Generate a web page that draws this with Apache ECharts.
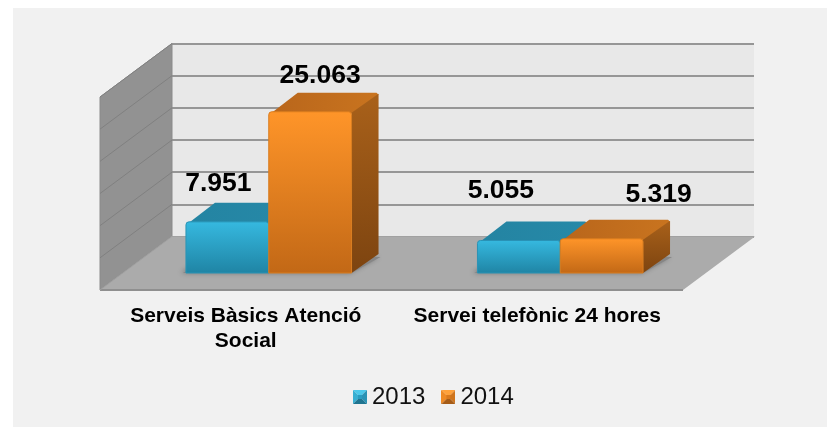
<!DOCTYPE html>
<html>
<head>
<meta charset="utf-8">
<style>
    html, body { margin: 0; padding: 0; background: #fff; }
    #panel { position: absolute; left: 13px; top: 8px; width: 814px; height: 419px; background: #f1f1f1; }
    #chart { position: absolute; left: 0; top: 0; width: 827px; height: 427px; }
</style>
<script src="https://cdn.jsdelivr.net/npm/echarts@6/dist/echarts.min.js"></script>
</head>
<body>
<div id="panel"></div>
<div id="chart"></div>
<script>
    const categories = ['Serveis Bàsics Atenció\nSocial', 'Servei telefònic 24 hores'];
    const values2013 = [7951, 5055];
    const values2014 = [25063, 5319];
    const axisTicks = [0, 5000, 10000, 15000, 20000, 25000, 30000];

    // label nudges, the source chart has them placed by hand
    const labelNudge2013 = [[-9, -38], [-18, -50]];
    const labelNudge2014 = [[10, -36], [57, -44]];

    const FONT = '"Liberation Sans", Arial, sans-serif';
    const DEPTH_X = 72, DEPTH_Y = 53.5;     // wall to front of floor
    const BAR_DX = 23, BAR_DY = 17;         // bars stand a bit inside the floor
    const TOP_DX = 27, TOP_DY = 19;         // depth of one bar

    function vgrad(a, b) {
        return new echarts.graphic.LinearGradient(0, 0, 0, 1, [{offset: 0, color: a}, {offset: 1, color: b}]);
    }

    function fmt(v) {
        return String(v).replace(/\B(?=(\d{3})+$)/g, '.');
    }

    function poly(points, fill, extra) {
        return {type: 'polygon', shape: {points}, style: Object.assign({fill}, extra || {})};
    }

    // small bevelled square for the legend
    function bevelIcon(top, left, right, bottom, mid) {
        const c = document.createElement('canvas');
        c.width = c.height = 14;
        const g = c.getContext('2d');
        const tri = (pts, col) => {
            g.fillStyle = col;
            g.beginPath();
            g.moveTo(pts[0], pts[1]);
            g.lineTo(pts[2], pts[3]);
            g.lineTo(7, 7);
            g.closePath();
            g.fill();
        };
        tri([0, 0, 14, 0], top);
        tri([0, 0, 0, 14], left);
        tri([14, 0, 14, 14], right);
        tri([0, 14, 14, 14], bottom);
        g.fillStyle = mid;
        g.fillRect(5, 5, 4, 4);
        return 'image://' + c.toDataURL();
    }

    // left wall and floor, with the wall lines from the same ticks as the back wall
    function renderRoom(params, api) {
        const cs = params.coordSys;
        const x0 = cs.x, x1 = cs.x + cs.width, yb = cs.y + cs.height;
        const children = [];
        if (params.dataIndex === 0) {
            const yt = api.coord([0, axisTicks[axisTicks.length - 1]])[1];
            children.push(poly([[x0, yt], [x0 + DEPTH_X, yt - DEPTH_Y], [x0 + DEPTH_X, yb - DEPTH_Y], [x0, yb]],
                '#929292', {stroke: '#8a8a8a', lineWidth: 1}));
            children.push(poly([[x0, yb], [x1, yb], [x1 + DEPTH_X, yb - DEPTH_Y], [x0 + DEPTH_X, yb - DEPTH_Y]],
                '#ababab'));
            children.push({type: 'line', shape: {x1: x0, y1: yb, x2: x1, y2: yb}, style: {stroke: '#8f8f8f', lineWidth: 2}});
            children.push({type: 'line', shape: {x1: x0, y1: yb, x2: x0 + DEPTH_X, y2: yb - DEPTH_Y}, style: {stroke: '#a0a0a0', lineWidth: 1}});
        }
        const y = api.coord([0, api.value(1)])[1];
        if (params.dataIndex > 0) {
            children.push({type: 'line', shape: {x1: x0, y1: y, x2: x0 + DEPTH_X, y2: y - DEPTH_Y},
                style: {stroke: '#808080', lineWidth: 1}});
        }
        return {type: 'group', children};
    }

    // soft shadow under each pair of bars
    function renderShadow(params, api) {
        const c = api.coord([api.value(0), 0]);
        const w = api.size([1, 0])[0] * 0.284;
        const xl = c[0] + BAR_DX - w, xr = c[0] + BAR_DX + w, yb = c[1] - BAR_DY;
        return {
            type: 'polygon',
            shape: {points: [[xl - 3, yb], [xr, yb], [xr + TOP_DX + 2, yb - TOP_DY + 3], [xl + TOP_DX, yb - TOP_DY]]},
            style: {fill: '#868686', shadowBlur: 5, shadowColor: 'rgba(0,0,0,0.35)', shadowOffsetX: -2, shadowOffsetY: 0}
        };
    }

    function barRenderer(side, colors, nudges) {
        return function (params, api) {
            const i = api.value(0);
            const top = api.coord([i, api.value(1)]);
            const base = api.coord([i, 0]);
            const w = api.size([1, 0])[0] * 0.284;
            const x = top[0] + BAR_DX + (side < 0 ? -w : 0);
            const yt = top[1] - BAR_DY, yb = base[1] - BAR_DY;
            const nudge = nudges[i];
            return {
                type: 'group',
                children: [
                    poly([[x + 3, yt + 1], [x + TOP_DX + 2, yt - TOP_DY], [x + w + TOP_DX - 2, yt - TOP_DY], [x + w + TOP_DX, yt - TOP_DY + 2], [x + w, yt + 2]],
                        new echarts.graphic.LinearGradient(0, 0, 1, 0, [{offset: 0, color: colors.top[0]}, {offset: 1, color: colors.top[1]}])),
                    poly([[x + w, yt + 1], [x + w + TOP_DX, yt - TOP_DY + 1], [x + w + TOP_DX, yb - TOP_DY], [x + w, yb]],
                        vgrad(colors.side[0], colors.side[1])),
                    {
                        type: 'rect',
                        shape: {x, y: yt, width: w, height: yb - yt, r: [3, 3, 0, 0]},
                        style: {fill: vgrad(colors.front[0], colors.front[1]), stroke: colors.edge, lineWidth: 1}
                    },
                    {
                        type: 'text',
                        style: {
                            text: fmt(api.value(1)),
                            x: x + w / 2 + nudge[0],
                            y: yt + nudge[1],
                            align: 'center',
                            verticalAlign: 'middle',
                            font: 'bold 26.5px ' + FONT,
                            fill: '#000'
                        }
                    }
                ]
            };
        };
    }

    const blue = {
        front: ['#36b9e0', '#1f84a4'],
        top: ['#2484a2', '#2689a8'],
        side: ['#21809d', '#16627a'],
        edge: '#2a93b5'
    };
    const orange = {
        front: ['#ff9529', '#c26816'],
        top: ['#b9661b', '#c9741f'],
        side: ['#a9611a', '#7d4410'],
        edge: '#d97d1f'
    };

    const chart = echarts.init(document.getElementById('chart'), null, {renderer: 'canvas'});
    chart.setOption({
        animation: false,
        backgroundColor: 'transparent',
        legend: {
            data: [
                {name: '2013', icon: bevelIcon('#4cc8ea', '#38afd2', '#2a93b5', '#1f7591', '#2a9cc0')},
                {name: '2014', icon: bevelIcon('#ffa13a', '#ef8a24', '#cf741c', '#a65c17', '#d9791e')}
            ],
            left: 348,
            top: 380,
            itemWidth: 14,
            itemHeight: 14,
            itemGap: 16,
            textStyle: {fontFamily: FONT, fontSize: 24, color: '#111'}
        },
        grid: [
            {left: 100, right: 144, top: 97, bottom: 137},
            {left: 172, right: 73, top: 43.5, bottom: 190.5, show: true, backgroundColor: '#e8e8e8', borderWidth: 0}
        ],
        xAxis: [
            {
                type: 'category',
                data: categories,
                gridIndex: 0,
                axisLine: {show: false},
                axisTick: {show: false},
                axisLabel: {
                    interval: 0,
                    margin: 14,
                    lineHeight: 25,
                    fontFamily: FONT,
                    fontWeight: 'bold',
                    fontSize: 21,
                    color: '#000'
                }
            },
            {type: 'category', data: categories, gridIndex: 1, show: false}
        ],
        yAxis: [
            {type: 'value', gridIndex: 0, min: 0, max: 30000, interval: 5000, show: false},
            {
                type: 'value',
                gridIndex: 1,
                min: 0,
                max: 30000,
                interval: 5000,
                axisLine: {show: false},
                axisTick: {show: false},
                axisLabel: {show: false},
                splitLine: {show: true, lineStyle: {color: '#969696', width: 2}}
            }
        ],
        series: [
            {
                name: 'room',
                type: 'custom',
                silent: true,
                clip: false,
                renderItem: renderRoom,
                data: axisTicks.map((t) => [0, t]),
                z: 2
            },
            {
                name: 'shadow',
                type: 'custom',
                silent: true,
                clip: false,
                renderItem: renderShadow,
                data: categories.map((c, i) => [i, 0]),
                z: 3
            },
            {
                name: '2013',
                type: 'custom',
                clip: false,
                renderItem: barRenderer(-1, blue, labelNudge2013),
                data: values2013.map((v, i) => [i, v]),
                itemStyle: {color: '#2fa9cf'},
                z: 4
            },
            {
                name: '2014',
                type: 'custom',
                clip: false,
                renderItem: barRenderer(1, orange, labelNudge2014),
                data: values2014.map((v, i) => [i, v]),
                itemStyle: {color: '#f08a25'},
                z: 5
            }
        ]
    });
</script>
</body>
</html>
